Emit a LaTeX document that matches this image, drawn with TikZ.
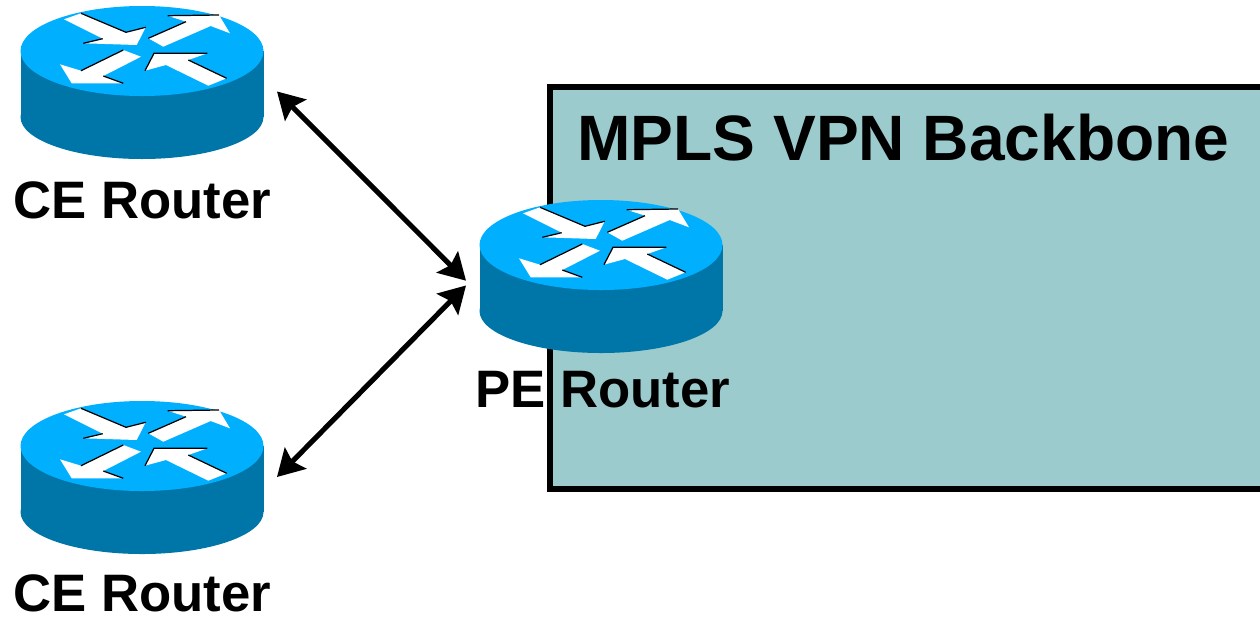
\documentclass[tikz,border=0pt]{standalone}
\usepackage{fontspec}
\setmainfont{Liberation Sans}
\usepackage{tikz}
\usetikzlibrary{arrows.meta}

\definecolor{routertop}{RGB}{0,176,255}
\definecolor{routerside}{RGB}{0,118,168}
\definecolor{backbonefill}{RGB}{155,203,205}

\tikzset{
    routerbox/.style = {rectangle, inner sep = 0pt, outer sep = 0pt, minimum width = 5.4cm, minimum height = 3.04cm},
    routerlabel/.style = {anchor = base, inner sep = 0pt, font = \bfseries\fontsize{30}{32}\selectfont},
    link/.style = {{Stealth[length = 15pt, width = 17pt, inset = 2.5pt]}-{Stealth[length = 15pt, width = 17pt, inset = 2.5pt]}, line width = 2.9pt},
    arrowedge/.style = {line width = 0.7pt, black},
    router/.pic = {
        \fill[routerside] (0,66) ellipse [x radius = 121.5, y radius = 42];
        \fill[routerside] (-121.5,0) rectangle (121.5,66);
        \fill[routertop] (0,0) ellipse [x radius = 121.5, y radius = 45];
        % four arrows on the top face
        \fill[white] (-78,-31.7) -- (-61,-37.7) -- (-16,-18.7) -- (3.7,-23.7) -- (-5.3,-6) -- (-58.7,-7.7) -- (-39.3,-12.3) -- cycle;
        \fill[white] (6.3,-12.7) -- (44,-29.3) -- (25.7,-35.3) -- (77,-36) -- (88,-17.7) -- (68.7,-25) -- (21.3,-4.3) -- cycle;
        \fill[white] (-82,13.3) -- (-61,19.7) -- (-18.7,-1) -- (-1,5.7) -- (-38.7,25) -- (-18.7,32.3) -- (-70.3,32.3) -- cycle;
        \fill[white] (3,19.7) -- (12,2.3) -- (65.3,2.3) -- (46.3,9) -- (84.7,27.3) -- (66.3,34.7) -- (24,14) -- cycle;
        \draw[arrowedge] (-61,-37.7) -- (-16,-18.7) -- (3.7,-23.7);
        \draw[arrowedge] (-58.7,-7.7) -- (-39.3,-12.3);
        \draw[arrowedge] (6.3,-12.7) -- (44,-29.3);
        \draw[arrowedge] (25.7,-35.3) -- (77,-36);
        \draw[arrowedge] (-61,19.7) -- (-18.7,-1);
        \draw[arrowedge] (-38.7,25) -- (-18.7,32.3);
        \draw[arrowedge] (3,19.7) -- (12,2.3) -- (65.3,2.3);
        \draw[arrowedge] (46.3,9) -- (84.7,27.3);
    }
}

\begin{document}
\begin{tikzpicture}[x = 0.02cm, y = -0.02cm]
\useasboundingbox (0,0) rectangle (1260,616);
\fill[white] (0,0) rectangle (1260,616);
\draw[fill = backbonefill, line width = 2.9pt] (550,87) rectangle (1290,489);
\node[anchor = base west, inner sep = 0pt, font = \bfseries\fontsize{36.5}{40}\selectfont] (title) at (577,160) {MPLS VPN Backbone};

\pic at (142,51) {router};
\pic at (142,446) {router};
\pic at (601,245) {router};

\node[routerbox] (ce1) at (142,82) {};
\node[routerbox] (ce2) at (142,477) {};
\node[routerbox] (pe) at (601,276) {};

\node[routerlabel] (ce1label) at (142.5,218) {CE Router};
\node[routerlabel] (ce2label) at (142.5,611) {CE Router};
\node[routerlabel] (pelabel) at (603,407) {PE Router};

\draw[link] (ce1.-4.8) -- (pe.182.1);
\draw[link] (ce2.-0.85) -- (pe.184.5);
\end{tikzpicture}
\end{document}
